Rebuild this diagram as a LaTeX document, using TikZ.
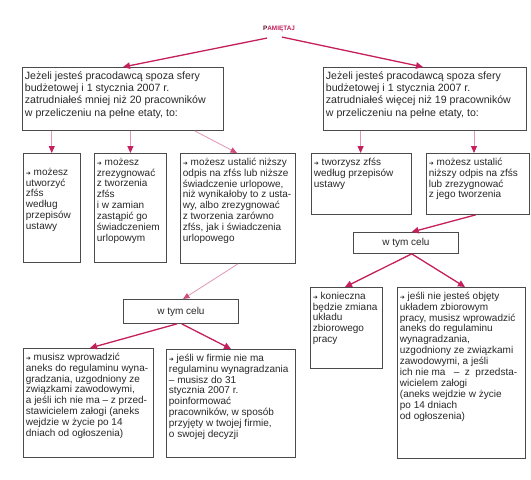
\documentclass[tikz,border=0pt]{standalone}
\usepackage{fontspec}
\setmainfont{Liberation Sans}
\newfontfamily\djv{DejaVu Sans}
\usetikzlibrary{arrows.meta,calc}
\definecolor{crimson}{RGB}{196,32,92}
\definecolor{titledark}{RGB}{90,20,45}
\definecolor{lightpink}{RGB}{226,150,182}
\definecolor{boxgray}{RGB}{75,75,75}
\definecolor{txt}{RGB}{40,40,40}
\newcommand{\ar}{{\djv\fontsize{6}{6}\selectfont ➜}}
\newcommand{\bxt}[3]{\parbox[c][#2][t]{#1}{\raggedright #3}}
\tikzset{
  boxnode/.style={draw=boxgray, line width=0.85pt, inner xsep=2.5pt, inner ysep=4.5pt,
    anchor=north west, text=txt, font=\fontsize{10}{10.9}\selectfont},
  topbox/.style={boxnode, font=\fontsize{10.6}{12.1}\selectfont},
  goalbox/.style={draw=boxgray, line width=0.85pt, inner sep=0pt, anchor=north west,
    text=txt, font=\fontsize{10}{11}\selectfont},
  bigarrow/.style={draw=crimson, line width=1.3pt, -{Triangle[width=6.5pt,length=7pt]}},
  downarrow/.style={draw=lightpink, line width=0.9pt, -{Triangle[width=6pt,length=7pt,color=crimson]}},
  thinarrow/.style={draw=lightpink, line width=0.8pt, -{Triangle[width=5.5pt,length=6.5pt,color=crimson!80!white]}}
}
\begin{document}
\begin{tikzpicture}[x=1pt,y=-1pt]
\useasboundingbox[fill=white] (0,0) rectangle (531,480);

\node[inner sep=0pt] (T) at (279,29) {\fontsize{6.4}{7}\selectfont\bfseries\textcolor{titledark}{P}\textcolor{crimson}{AMIĘTAJ}};

\node[topbox] (L1) at (22,67) {\bxt{196pt}{54pt}{Jeżeli jesteś pracodawcą spoza sfery\\ budżetowej i 1 stycznia 2007 r.\\ zatrudniałeś mniej niż 20 pracowników\\ w przeliczeniu na pełne etaty, to:}};
\node[topbox] (R1) at (323,67) {\bxt{198pt}{54pt}{Jeżeli jesteś pracodawcą spoza sfery\\ budżetowej i 1 stycznia 2007 r.\\ zatrudniałeś więcej niż 19 pracowników\\ w przeliczeniu na pełne etaty, to:}};

\node[boxnode] (a) at (23,153) {\bxt{52pt}{100pt}{\vspace*{10pt}\ar{} możesz\\ utworzyć\\ zfśs\\ według\\ przepisów\\ ustawy}};
\node[boxnode] (b) at (94,153) {\bxt{67pt}{100pt}{\ar{} możesz\\ zrezygnować\\ z tworzenia\\ zfśs\\ i w zamian\\ zastąpić go\\ świadczeniem\\ urlopowym}};
\node[boxnode] (c) at (180,153) {\bxt{110pt}{101pt}{\ar{} możesz ustalić niższy\\ odpis na zfśs lub niższe\\ świadczenie urlopowe,\\ niż wynikałoby to z usta-\\ wy, albo zrezygnować\\ z tworzenia zarówno\\ zfśs, jak i świadczenia\\ urlopowego}};
\node[boxnode] (d) at (311,153) {\bxt{95pt}{52pt}{\ar{} tworzysz zfśs\\ według przepisów\\ ustawy}};
\node[boxnode] (e) at (426,153) {\bxt{98pt}{52pt}{\ar{} możesz ustalić\\ niższy odpis na zfśs\\ lub zrezygnować\\ z jego tworzenia}};

\node[goalbox, minimum width=115pt, minimum height=24pt] (wL) at (123,299) {w tym celu};
\node[goalbox, minimum width=105pt, minimum height=21pt] (wR) at (353,232) {w tym celu};

\node[boxnode] (f) at (23,348) {\bxt{125pt}{100pt}{\ar{} musisz wprowadzić\\ aneks do regulaminu wyna-\\ gradzania, uzgodniony ze\\ związkami zawodowymi,\\ a jeśli ich nie ma – z przed-\\ stawicielem załogi (aneks\\ wejdzie w życie po 14\\ dniach od ogłoszenia)}};
\node[boxnode] (g) at (166,349) {\bxt{124pt}{99pt}{\ar{} jeśli w firmie nie ma\\ regulaminu wynagradzania\\ – musisz do 31\\ stycznia 2007 r.\\ poinformować\\ pracowników, w sposób\\ przyjęty w twojej firmie,\\ o swojej decyzji}};
\node[boxnode] (h) at (310,287) {\bxt{67pt}{72pt}{\ar{} konieczna\\ będzie zmiana\\ układu\\ zbiorowego\\ pracy}};
\node[boxnode] (i) at (397,287) {\bxt{123pt}{162pt}{\ar{} jeśli nie jesteś objęty\\ układem zbiorowym\\ pracy, musisz wprowadzić\\ aneks do regulaminu\\ wynagradzania,\\ uzgodniony ze związkami\\ zawodowymi, a jeśli\\ ich nie ma~~ –~ z~ przedsta-\\ wicielem załogi\\ (aneks wejdzie w życie\\ po 14 dniach\\ od ogłoszenia)}};

% connectors
\draw[bigarrow] ($(T.south)+(-12,6)$) -- ($(L1.north west)+(101,0)$);
\draw[bigarrow] ($(T.south)+(3,5)$) -- ($(R1.north west)+(100,0)$);
\draw[downarrow] ($(L1.south west)+(29.8,0)$) -- ($(a.north west)+(28.8,0)$);
\draw[downarrow] ($(L1.south west)+(108.4,0)$) -- ($(b.north west)+(36.4,0)$);
\draw[thinarrow] ($(L1.south west)+(172.7,0)$) -- ($(c.north west)+(57,0)$);
\draw[downarrow] ($(R1.south west)+(37.6,0)$) -- ($(d.north west)+(49.6,0)$);
\draw[downarrow] ($(R1.south west)+(151,0)$) -- ($(e.north west)+(48,0)$);
\draw[bigarrow] ($(e.south west)+(49.7,0)$) -- ($(wR.north west)+(58.7,0)$);
\draw[thinarrow] ($(c.south west)+(58,0)$) -- ($(wL.north west)+(60,0)$);
\draw[bigarrow] ($(wL.south west)+(54,0)$) -- ($(f.north west)+(67,0)$);
\draw[bigarrow] ($(wL.south west)+(58.7,0)$) -- ($(g.north west)+(65,0)$);
\draw[bigarrow] ($(wR.south west)+(58.7,0)$) -- ($(h.north west)+(35,0)$);
\draw[bigarrow] ($(wR.south west)+(58.7,0)$) -- ($(i.north west)+(68,0)$);
\end{tikzpicture}
\end{document}
